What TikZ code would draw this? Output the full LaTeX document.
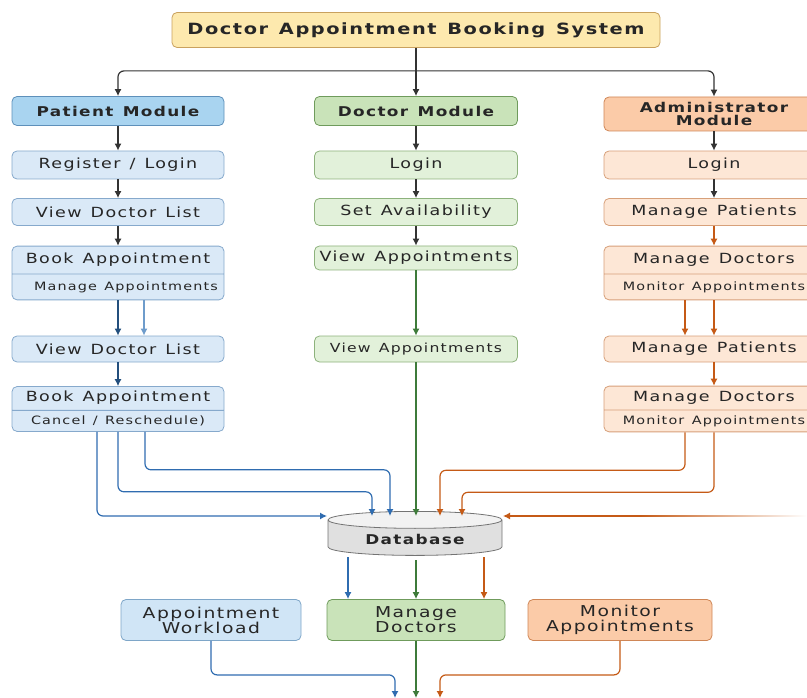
\documentclass[tikz,border=0pt]{standalone}
\usepackage{fontspec}
\setmainfont{DejaVu Sans}[FakeStretch=1.25,LetterSpace=10,WordSpace=1.3]
\usetikzlibrary{arrows.meta,shapes.geometric,shapes.multipart}

\definecolor{titlefill}{HTML}{FDE9AE}
\definecolor{titleline}{HTML}{C9A15E}
\definecolor{patfill}{HTML}{A9D4F0}
\definecolor{patline}{HTML}{5E90BA}
\definecolor{patlight}{HTML}{DAE9F7}
\definecolor{patlightline}{HTML}{86A9CC}
\definecolor{docfill}{HTML}{C9E3B9}
\definecolor{docline}{HTML}{6F9B5C}
\definecolor{doclight}{HTML}{E2F1DA}
\definecolor{doclightline}{HTML}{8DB27C}
\definecolor{admfill}{HTML}{FBCBA8}
\definecolor{admline}{HTML}{CF8656}
\definecolor{admlight}{HTML}{FDE7D6}
\definecolor{admlightline}{HTML}{D7A07A}
\definecolor{navyarrow}{HTML}{234F7D}
\definecolor{skyarrow}{HTML}{6E9CCB}
\definecolor{bluearrow}{HTML}{2F6CB0}
\definecolor{greenarrow}{HTML}{3E7B3A}
\definecolor{orangearrow}{HTML}{C55A16}
\definecolor{darkarrow}{HTML}{333333}
\newcommand{\subtxt}{\fontsize{11.5}{13}\selectfont}

\begin{document}
\begin{tikzpicture}[x=1pt,y=-1pt,>={Latex[length=7pt,width=7pt]},
  box/.style={draw,rounded corners=5pt,line width=0.8pt,align=center,
    text=black!85,font=\fontsize{14}{15}\selectfont},
  headbox/.style={box,fill=titlefill,draw=titleline,minimum width=488pt,
    minimum height=35pt,font=\bfseries\fontsize{15.5}{17}\selectfont},
  modbox/.style={box,minimum height=29pt,font=\bfseries\fontsize{13.5}{14}\selectfont},
  pstep/.style={box,fill=patlight,draw=patlightline,minimum width=212pt},
  dstep/.style={box,fill=doclight,draw=doclightline,minimum width=203pt},
  astep/.style={box,fill=admlight,draw=admlightline,minimum width=220pt},
  split/.style={rectangle split,rectangle split parts=2,inner xsep=3pt,
    text height=10pt,text depth=3pt,inner ysep=#1},
  flow/.style={->,line width=1.2pt,rounded corners=6pt},
]
\useasboundingbox (0,0) rectangle (807,698);

% header and the three modules
\node[headbox] (sys) at (416,30) {Doctor Appointment Booking System};
\node[modbox,fill=patfill,draw=patline,minimum width=212pt] (pat) at (118,111) {Patient Module};
\node[modbox,fill=docfill,draw=docline,minimum width=203pt] (doc) at (416,111) {Doctor Module};
\node[modbox,fill=admfill,draw=admline,minimum width=220pt,minimum height=34pt,
  inner ysep=1pt,font=\bfseries\fontsize{13.5}{13}\selectfont] (adm) at (714,114) {Administrator\\Module};

% patient column
\node[pstep,minimum height=28pt] (preg) at (118,165) {Register / Login};
\node[pstep,minimum height=27pt] (plist) at (118,212) {View Doctor List};
\node[pstep,split=7pt] (pbook) at (118,273)
  {Book Appointment\nodepart{two}\subtxt\hspace*{16pt}Manage Appointments};
\node[pstep,minimum height=26pt] (plist2) at (118,349) {View Doctor List};
\node[pstep,split=5pt] (pbook2) at (118,409)
  {Book Appointment\nodepart{two}\subtxt Cancel / Reschedule)};

% doctor column
\node[dstep,minimum height=28pt] (dlogin) at (416,165) {Login};
\node[dstep,minimum height=27pt] (davail) at (416,212) {Set Availability};
\node[dstep,minimum height=24pt] (dview) at (416,258) {View Appointments};
\node[dstep,minimum height=26pt,font=\fontsize{12.5}{13}\selectfont] (dview2) at (416,349) {View Appointments};

% administrator column
\node[astep,minimum height=28pt] (alogin) at (714,165) {Login};
\node[astep,minimum height=27pt] (apat) at (714,212) {Manage Patients};
\node[astep,split=7pt] (adoc) at (714,273)
  {Manage Doctors\nodepart{two}\subtxt Monitor Appointments};
\node[astep,minimum height=26pt] (apat2) at (714,349) {Manage Patients};
\node[astep,split=5pt] (adoc2) at (714,409)
  {Manage Doctors\nodepart{two}\subtxt Monitor Appointments};

% database and the bottom row
\node[cylinder,shape border rotate=90,aspect=0.16,draw=black!55,line width=0.8pt,
  cylinder uses custom fill,cylinder body fill=black!12,cylinder end fill=black!5,
  minimum width=174pt,minimum height=44pt,font=\bfseries\fontsize{13.5}{14}\selectfont,
  text=black!85] (db) at (415,539) {Database};
\node[box,fill=patlight!80!patfill,draw=patline!80,minimum width=180pt,minimum height=41pt,
  font=\fontsize{15}{15}\selectfont] (awl) at (211,620) {Appointment\\Workload};
\node[box,fill=docfill,draw=docline,minimum width=178pt,minimum height=41pt,
  font=\fontsize{15}{15}\selectfont] (mdoc) at (416,620) {Manage\\Doctors};
\node[box,fill=admfill,draw=admline,minimum width=184pt,minimum height=41pt,
  font=\fontsize{15}{15}\selectfont] (mapp) at (620,620) {Monitor\\Appointments};

\coordinate (fork) at ([yshift=-23pt]sys.south);
\coordinate (afade) at (640,516);
\coordinate (outl) at (395,698);
\coordinate (outm) at (416,698);
\coordinate (outr) at (440,698);

% header to modules
\draw[flow,darkarrow] (sys) -- (doc);
\draw[flow,darkarrow] (fork) -| (pat);
\draw[flow,darkarrow] (fork) -| (adm);

% steps
\draw[flow,darkarrow] (pat) -- (preg);
\draw[flow,darkarrow] (preg) -- (plist);
\draw[flow,darkarrow] (plist) -- (pbook);
\draw[flow,navyarrow] (pbook.south) -- (plist2.north);
\draw[flow,skyarrow] ([xshift=26pt]pbook.south) -- ([xshift=26pt]plist2.north);
\draw[flow,navyarrow] (plist2) -- (pbook2);

\draw[flow,darkarrow] (doc) -- (dlogin);
\draw[flow,darkarrow] (dlogin) -- (davail);
\draw[flow,darkarrow] (davail) -- (dview);
\draw[flow,greenarrow] (dview) -- (dview2);

\draw[flow,darkarrow] (adm) -- (alogin);
\draw[flow,darkarrow] (alogin) -- (apat);
\draw[flow,orangearrow] (apat) -- (adoc);
\draw[flow,orangearrow] ([xshift=-29pt]adoc.south) -- ([xshift=-29pt]apat2.north);
\draw[flow,orangearrow] (adoc.south) -- (apat2.north);
\draw[flow,orangearrow] (apat2) -- (adoc2);

% into the database
\draw[flow,bluearrow] ([xshift=-21pt]pbook2.south) |- ([xshift=-88pt,yshift=23pt]db.center);
\draw[flow,bluearrow] (pbook2.south) -- ++(0,60) -| ([xshift=-43pt,yshift=23pt]db.center);
\draw[flow,bluearrow] ([xshift=27pt]pbook2.south) -- ++(0,38) -| ([xshift=-25pt,yshift=23pt]db.center);
\draw[flow,greenarrow] (dview2) -- ([xshift=1pt,yshift=23pt]db.center);
\draw[flow,orangearrow] ([xshift=-29pt]adoc2.south) -- ++(0,38) -| ([xshift=25pt,yshift=23pt]db.center);
\draw[flow,orangearrow] (adoc2.south) -- ++(0,60) -| ([xshift=47pt,yshift=23pt]db.center);
\draw[flow,orangearrow] (afade) -- ([xshift=88pt,yshift=23pt]db.center);
\shade[left color=orangearrow,right color=white] (640,515.4) rectangle (807,516.6);

% out of the database
\draw[flow,bluearrow] ([xshift=-67pt,yshift=-18pt]db.center) -- ([xshift=-68pt]mdoc.north);
\draw[flow,greenarrow] ([xshift=1pt,yshift=-21pt]db.center) -- (mdoc.north);
\draw[flow,orangearrow] ([xshift=69pt,yshift=-18pt]db.center) -- ([xshift=68pt]mdoc.north);

% bottom row
\draw[flow,bluearrow] (awl.south) -- ++(0,34) -| (outl);
\draw[flow,greenarrow] (mdoc) -- (outm);
\draw[flow,orangearrow] (mapp.south) -- ++(0,34) -| (outr);
\end{tikzpicture}
\end{document}
